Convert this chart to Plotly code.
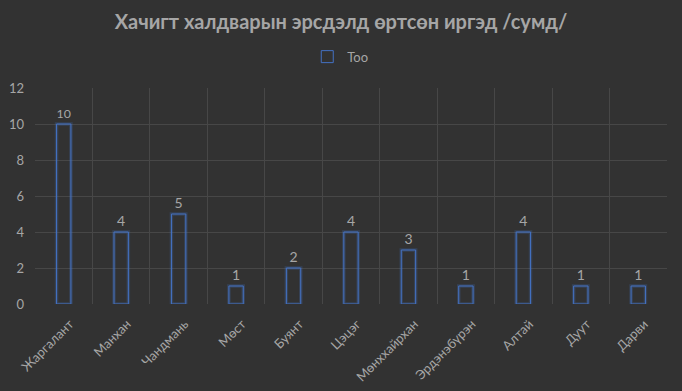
import plotly.graph_objects as go

categories = ["Жаргалант", "Манхан", "Чандмань", "Мөст", "Буянт", "Цэцэг",
              "Мөнххайрхан", "Эрдэнэбүрэн", "Алтай", "Дуут", "Дарви"]
values = [10, 4, 5, 1, 2, 4, 3, 1, 4, 1, 1]
series_name = "Too"
title_text = "Хачигт халдварын эрсдэлд өртсөн иргэд /сумд/"

BG = "#323232"
GRID = "#474747"
TXT = "#a6a6a6"
BLUE = "#4472c4"
FONT = "Lato, 'Open Sans', 'Liberation Sans', sans-serif"

fig = go.Figure()
# glow underlay
fig.add_trace(go.Bar(
    x=categories, y=values, width=0.25,
    marker=dict(color="rgba(0,0,0,0)", line=dict(color="rgba(68,114,196,0.25)", width=3.5)),
    showlegend=False, hoverinfo="skip"))
fig.add_trace(go.Bar(
    x=categories, y=values, name=series_name, width=0.25,
    marker=dict(color="rgba(0,0,0,0)", line=dict(color=BLUE, width=1)),
    text=values, textposition="outside", cliponaxis=False,
    textfont=dict(color=TXT, size=14, family=FONT)))

fig.update_layout(
    width=682, height=391,
    paper_bgcolor=BG, plot_bgcolor=BG,
    barmode="overlay",
    margin=dict(l=35, r=15, t=88, b=87, autoexpand=False),
    font=dict(family=FONT, color=TXT, size=12),
    title=dict(text="<b>" + title_text + "</b>", x=0.5, xanchor="center",
               y=0.943, yanchor="middle",
               font=dict(size=20, color=TXT, family=FONT)),
    legend=dict(orientation="h", x=0.483, xanchor="center", y=1.145, yanchor="middle",
                font=dict(size=13, color=TXT), bgcolor="rgba(0,0,0,0)",
                itemwidth=30),
    xaxis=dict(tickson="boundaries", showgrid=True, gridcolor=GRID, gridwidth=1,
               tickangle=-45, tickfont=dict(size=13, color=TXT),
               ticklabelstandoff=9, ticklabelshift=6,
               showline=False, zeroline=False, ticks="", automargin=False),
    yaxis=dict(range=[0, 12], dtick=2, showgrid=True, gridcolor=GRID,
               zeroline=False, tickfont=dict(size=13, color=TXT), ticks="",
               ticklabelstandoff=10, automargin=False),
)
fig.write_html("out.html", config={"displayModeBar": False},
               post_script="document.body.style.margin='0';document.body.style.overflow='hidden';document.body.style.background='#323232';")
